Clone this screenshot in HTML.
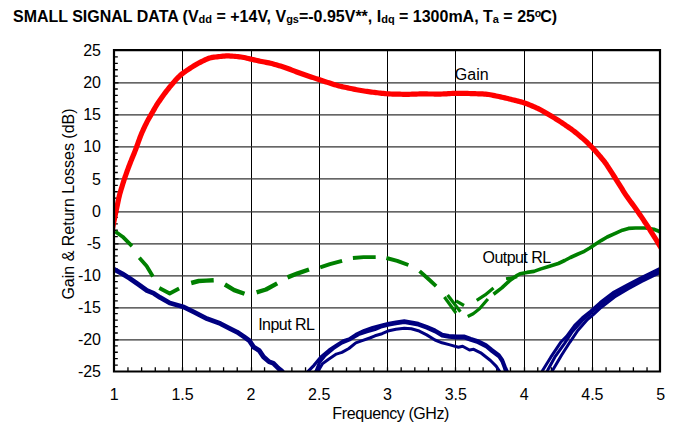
<!DOCTYPE html>
<html><head><meta charset="utf-8"><style>
html,body{margin:0;padding:0;background:#fff;}
body{width:690px;height:430px;overflow:hidden;}
svg{display:block;font-family:"Liberation Sans",sans-serif;}
</style></head><body>
<svg width="690" height="430" viewBox="0 0 690 430">
<rect width="690" height="430" fill="#fff"/>
<text x="13" y="21.8" font-size="16" font-weight="bold" fill="#000" transform="translate(0,21.8) scale(1,0.98) translate(0,-21.8)">SMALL SIGNAL DATA (V<tspan font-size="11" dy="1">dd</tspan><tspan dy="-1"> = +14V, V</tspan><tspan font-size="11" dy="1">gs</tspan><tspan dy="-1">=-0.95V**, I</tspan><tspan font-size="11" dy="1">dq</tspan><tspan dy="-1"> = 1300mA, T</tspan><tspan font-size="11" dy="1">a</tspan><tspan dy="-1"> = 25</tspan><tspan font-size="10.5" dy="-4.5" dx="-0.3">o</tspan><tspan dy="4.5" dx="-0.8">C)</tspan></text>
<g fill="none">
<line x1="182.5" y1="50" x2="182.5" y2="371" stroke="#000" stroke-width="1"/><line x1="251.5" y1="50" x2="251.5" y2="371" stroke="#000" stroke-width="1"/><line x1="319.5" y1="50" x2="319.5" y2="371" stroke="#000" stroke-width="1"/><line x1="387.5" y1="50" x2="387.5" y2="371" stroke="#000" stroke-width="1"/><line x1="455.5" y1="50" x2="455.5" y2="371" stroke="#000" stroke-width="1"/><line x1="524.5" y1="50" x2="524.5" y2="371" stroke="#000" stroke-width="1"/><line x1="592.5" y1="50" x2="592.5" y2="371" stroke="#000" stroke-width="1"/><line x1="114" y1="82.8" x2="660" y2="82.8" stroke="#333" stroke-width="1.35"/><line x1="114" y1="114.8" x2="660" y2="114.8" stroke="#333" stroke-width="1.35"/><line x1="114" y1="146.8" x2="660" y2="146.8" stroke="#333" stroke-width="1.35"/><line x1="114" y1="178.8" x2="660" y2="178.8" stroke="#333" stroke-width="1.35"/><line x1="114" y1="211.8" x2="660" y2="211.8" stroke="#333" stroke-width="1.35"/><line x1="114" y1="243.8" x2="660" y2="243.8" stroke="#333" stroke-width="1.35"/><line x1="114" y1="275.8" x2="660" y2="275.8" stroke="#333" stroke-width="1.35"/><line x1="114" y1="307.8" x2="660" y2="307.8" stroke="#333" stroke-width="1.35"/><line x1="114" y1="339.8" x2="660" y2="339.8" stroke="#333" stroke-width="1.35"/>
</g>
<path d="M114,365.08h3.8M114,358.66h3.8M114,352.24h3.8M114,345.82h3.8M114,339.80h4.5M114,332.98h3.8M114,326.56h3.8M114,320.14h3.8M114,313.72h3.8M114,307.80h4.5M114,300.88h3.8M114,294.46h3.8M114,288.04h3.8M114,281.62h3.8M114,275.80h4.5M114,268.78h3.8M114,262.36h3.8M114,255.94h3.8M114,249.52h3.8M114,243.80h4.5M114,236.68h3.8M114,230.26h3.8M114,223.84h3.8M114,217.42h3.8M114,211.80h4.5M114,204.58h3.8M114,198.16h3.8M114,191.74h3.8M114,185.32h3.8M114,178.80h4.5M114,172.48h3.8M114,166.06h3.8M114,159.64h3.8M114,153.22h3.8M114,146.80h4.5M114,140.38h3.8M114,133.96h3.8M114,127.54h3.8M114,121.12h3.8M114,114.80h4.5M114,108.28h3.8M114,101.86h3.8M114,95.44h3.8M114,89.02h3.8M114,82.80h4.5M114,76.18h3.8M114,69.76h3.8M114,63.34h3.8M114,56.92h3.8M127.96,371v-3.8M141.62,371v-3.8M155.28,371v-3.8M168.94,371v-3.8M182.50,371v-3.8M196.26,371v-3.8M209.92,371v-3.8M223.58,371v-3.8M237.24,371v-3.8M251.50,371v-3.8M264.56,371v-3.8M278.22,371v-3.8M291.88,371v-3.8M305.54,371v-3.8M319.50,371v-3.8M332.86,371v-3.8M346.52,371v-3.8M360.18,371v-3.8M373.84,371v-3.8M387.50,371v-3.8M401.16,371v-3.8M414.82,371v-3.8M428.48,371v-3.8M442.14,371v-3.8M455.50,371v-3.8M469.46,371v-3.8M483.12,371v-3.8M496.78,371v-3.8M510.44,371v-3.8M524.50,371v-3.8M537.76,371v-3.8M551.42,371v-3.8M565.08,371v-3.8M578.74,371v-3.8M592.50,371v-3.8M606.06,371v-3.8M619.72,371v-3.8M633.38,371v-3.8M647.04,371v-3.8" stroke="#000" stroke-width="1.3" fill="none"/>
<defs><clipPath id="pc"><rect x="114.6" y="50" width="545.4" height="321.2"/></clipPath></defs>
<g clip-path="url(#pc)" fill="none" stroke-linejoin="round" stroke-linecap="butt">
<polyline points="110.0,267.0 114.6,269.5 122.5,273.9 129.5,278.2 138.2,284.3 146.9,290.5 153.9,293.4 160.0,297.4 169.8,303.0 182.9,306.7 194.1,312.2 207.2,318.8 220.3,323.6 230.0,328.6 237.0,332.1 244.0,336.8 249.5,340.8 253.7,347.1 259.3,350.6 263.5,356.9 269.1,361.8 273.3,363.2 278.2,368.1 281.7,370.8 284.0,374.0" stroke="#000080" stroke-width="4.8"/>
<polyline points="306.0,374.0 308.4,371.0 314.0,365.3 320.9,356.9 329.3,349.9 337.7,344.3 343.3,340.8 348.9,339.0 355.8,334.5 364.2,330.4 372.6,327.5 382.0,325.0 389.0,323.3 395.9,322.0 404.3,320.8 411.3,322.0 418.3,323.4 426.7,326.4 435.0,330.0 442.0,334.2 449.0,335.5 457.0,336.0 464.0,336.0 470.9,338.5 477.9,340.8 486.3,345.0 491.9,349.6 498.9,354.8 502.4,359.7 505.1,366.7 508.0,373.0" stroke="#000080" stroke-width="3.2"/>
<polyline points="314.0,374.0 316.1,371.0 319.5,362.5 325.1,355.5 333.5,348.5 341.9,342.9 350.3,339.4 358.6,334.5 367.0,331.8 375.0,329.5 382.0,326.6 389.0,325.0 395.9,323.6 404.3,322.4 411.3,323.6 418.3,325.0 426.7,328.0 435.0,331.7 442.0,335.9 449.0,337.2 457.0,337.8 464.0,337.8 470.9,340.3 477.9,342.6 486.3,346.8 491.9,351.4 498.9,356.6 502.0,361.5 504.5,368.0 506.0,373.0" stroke="#000080" stroke-width="3.2"/>
<polyline points="316.0,374.0 318.2,371.0 322.3,363.9 327.9,359.7 336.3,354.1 341.9,352.4 348.9,348.5 355.8,342.9 361.4,340.8 369.8,338.0 375.0,335.8 382.0,333.7 389.0,330.7 395.9,329.3 404.3,328.2 411.3,328.8 418.3,330.7 426.7,334.9 435.0,340.0 442.0,342.8 450.0,344.9 458.4,347.2 462.6,346.2 469.5,350.0 473.7,349.3 480.7,352.8 490.5,360.5 496.1,366.1 499.6,371.4 501.0,374.0" stroke="#000080" stroke-width="3"/>
<polyline points="541.5,373.0 542.9,370.0 550.8,357.2 560.7,342.3 566.6,336.4 574.5,325.6 582.4,317.7 590.3,311.3 600.2,302.5 614.0,292.0 627.9,284.5 641.8,277.3 662.0,267.5" stroke="#000080" stroke-width="3"/>
<polyline points="551.5,373.0 552.8,370.0 561.5,355.2 569.8,342.3 577.8,330.5 587.4,319.6 593.3,314.7 601.0,307.5 614.5,297.0 628.0,289.0 641.8,281.5 662.0,271.5" stroke="#000080" stroke-width="3"/>
<polyline points="546.5,373.0 547.8,370.0 554.8,357.2 564.6,343.3 572.5,331.5 582.0,321.0 591.0,313.0 600.2,305.0 614.0,294.5 627.9,286.7 641.8,279.4 662.0,269.5" stroke="#000080" stroke-width="3"/>
<polyline points="115.2,231.5 122.6,236.7 132.0,246.2" stroke="#008000" stroke-width="3.8"/><polyline points="139.3,257.7 146.6,266.0 152.9,276.5" stroke="#008000" stroke-width="3.8"/><polyline points="159.3,288.0 169.7,293.5 179.1,288.5" stroke="#008000" stroke-width="3.8"/>
<polyline points="191.2,283.0 198.7,281.0 206.2,280.6 213.7,280.2" stroke="#008000" stroke-width="4.4"/><polyline points="224.9,284.5 234.2,290.1 244.5,293.8" stroke="#008000" stroke-width="4.4"/><polyline points="256.6,292.3 266.0,289.5 277.2,283.4" stroke="#008000" stroke-width="4.4"/><polyline points="287.5,277.4 297.8,273.3 309.0,269.5" stroke="#008000" stroke-width="4.4"/>
<polyline points="320.2,267.4 329.9,264.2 342.1,260.8" stroke="#008000" stroke-width="3.9"/><polyline points="352.9,258.0 363.6,257.1 375.7,257.1" stroke="#008000" stroke-width="3.9"/><polyline points="386.4,258.0 397.2,260.8 408.4,265.0" stroke="#008000" stroke-width="3.9"/><polyline points="419.6,271.1 429.0,279.5 436.1,286.1" stroke="#008000" stroke-width="3.9"/>
<polyline points="444.4,297.0 456.0,313.0" stroke="#008000" stroke-width="3.2"/><polyline points="447.6,295.0 460.4,311.7" stroke="#008000" stroke-width="3.2"/><polyline points="456.0,300.8 464.0,305.5" stroke="#008000" stroke-width="3.2"/><polyline points="467.7,316.5 473.2,313.7 479.5,308.8 487.9,299.0" stroke="#008000" stroke-width="3.2"/><polyline points="476.7,300.4 485.1,294.9 493.5,287.9" stroke="#008000" stroke-width="3.2"/>
<polyline points="493.5,294.2 501.8,287.9 510.2,280.2 517.2,275.3 520.0,273.8 527.0,272.4 534.0,271.4 540.9,268.9 547.9,266.8 558.3,263.5 564.7,260.5 570.4,257.5 577.0,254.5 584.3,251.3 589.8,248.0 595.0,244.6 601.1,240.6 607.2,237.0 615.3,233.3 622.4,230.2 628.5,228.4 635.6,228.0 645.7,228.0 653.8,229.2 658.9,231.2 662.0,234.0" stroke="#008000" stroke-width="3.6"/>
<polyline points="506.0,278.8 517.2,276.7" stroke="#008000" stroke-width="3"/>
<path d="M112.50,229.00 L112.87,226.96 L113.09,225.81 L113.34,224.48 L113.61,223.06 L113.90,221.60 L114.20,220.13 L114.50,218.66 L114.81,217.18 L115.11,215.71 L115.42,214.23 L115.72,212.76 L116.03,211.29 L116.33,209.81 L116.64,208.34 L116.95,206.86 L117.26,205.39 L117.57,203.92 L117.88,202.44 L118.19,200.97 L118.50,199.50 L118.82,198.03 L119.16,196.56 L119.51,195.10 L119.89,193.65 L120.30,192.20 L120.73,190.76 L121.16,189.32 L121.60,187.88 L122.05,186.44 L122.49,185.00 L122.94,183.56 L123.38,182.12 L123.84,180.69 L124.31,179.26 L124.79,177.83 L125.28,176.41 L125.78,174.99 L126.28,173.57 L126.79,172.16 L127.30,170.74 L127.81,169.32 L128.33,167.91 L128.85,166.50 L129.38,165.09 L129.93,163.69 L130.48,162.29 L131.05,160.89 L131.61,159.50 L132.18,158.11 L132.75,156.71 L133.32,155.32 L133.89,153.92 L134.45,152.53 L135.01,151.13 L135.55,149.73 L136.08,148.32 L136.60,146.91 L137.11,145.49 L137.62,144.07 L138.13,142.66 L138.64,141.24 L139.15,139.82 L139.66,138.41 L140.18,137.00 L140.72,135.59 L141.28,134.20 L141.87,132.81 L142.47,131.44 L143.10,130.07 L143.73,128.70 L144.37,127.34 L145.01,125.98 L145.66,124.62 L146.32,123.27 L147.00,121.93 L147.70,120.60 L148.42,119.28 L149.17,117.97 L149.92,116.66 L150.67,115.36 L151.42,114.06 L152.17,112.75 L152.92,111.45 L153.67,110.14 L154.42,108.84 L155.18,107.53 L155.95,106.24 L156.73,104.96 L157.54,103.69 L158.36,102.43 L159.20,101.18 L160.05,99.94 L160.92,98.71 L161.79,97.48 L162.67,96.26 L163.56,95.05 L164.45,93.83 L165.35,92.62 L166.25,91.42 L167.17,90.23 L168.10,89.05 L169.04,87.87 L170.00,86.71 L170.95,85.55 L171.92,84.39 L172.89,83.24 L173.87,82.10 L174.87,80.97 L175.87,79.86 L176.89,78.75 L177.92,77.65 L178.98,76.59 L180.07,75.56 L181.20,74.58 L182.37,73.65 L183.57,72.75 L184.79,71.87 L186.02,71.00 L187.26,70.15 L188.51,69.31 L189.77,68.49 L191.03,67.67 L192.31,66.87 L193.59,66.08 L194.87,65.29 L196.16,64.52 L197.46,63.77 L198.78,63.05 L200.11,62.35 L201.46,61.67 L202.80,61.00 L204.15,60.34 L205.51,59.69 L206.87,59.07 L208.26,58.51 L209.66,58.04 L211.10,57.67 L212.56,57.38 L214.04,57.16 L215.53,56.97 L217.02,56.80 L218.52,56.64 L220.01,56.48 L221.51,56.32 L223.01,56.17 L224.50,56.05 L226.00,55.96 L227.50,55.93 L229.00,55.96 L230.50,56.03 L232.00,56.14 L233.50,56.26 L235.00,56.39 L236.49,56.52 L237.99,56.66 L239.49,56.82 L240.98,57.01 L242.46,57.24 L243.94,57.51 L245.41,57.82 L246.87,58.16 L248.34,58.50 L249.80,58.85 L251.27,59.20 L252.73,59.55 L254.19,59.90 L255.66,60.25 L257.13,60.58 L258.60,60.91 L260.07,61.22 L261.54,61.51 L263.02,61.78 L264.50,62.05 L265.99,62.32 L267.46,62.60 L268.94,62.90 L270.40,63.24 L271.86,63.60 L273.31,63.99 L274.76,64.40 L276.20,64.82 L277.65,65.24 L279.09,65.67 L280.54,66.10 L281.98,66.53 L283.41,66.98 L284.84,67.45 L286.26,67.95 L287.67,68.46 L289.08,69.00 L290.49,69.54 L291.89,70.08 L293.29,70.63 L294.70,71.17 L296.10,71.71 L297.51,72.25 L298.91,72.78 L300.33,73.29 L301.75,73.79 L303.17,74.29 L304.60,74.77 L306.02,75.25 L307.45,75.73 L308.88,76.21 L310.30,76.69 L311.73,77.16 L313.16,77.64 L314.59,78.12 L316.01,78.60 L317.44,79.07 L318.87,79.55 L320.30,80.02 L321.73,80.50 L323.16,80.97 L324.59,81.44 L326.02,81.90 L327.45,82.37 L328.88,82.84 L330.31,83.31 L331.74,83.78 L333.17,84.24 L334.61,84.69 L336.05,85.12 L337.50,85.53 L338.95,85.91 L340.41,86.26 L341.88,86.59 L343.35,86.92 L344.82,87.24 L346.29,87.56 L347.76,87.88 L349.23,88.20 L350.70,88.52 L352.18,88.83 L353.65,89.13 L355.13,89.42 L356.61,89.69 L358.09,89.96 L359.57,90.21 L361.06,90.46 L362.54,90.71 L364.03,90.95 L365.51,91.20 L367.00,91.43 L368.49,91.66 L369.98,91.88 L371.47,92.08 L372.96,92.26 L374.46,92.44 L375.95,92.62 L377.45,92.79 L378.94,92.96 L380.44,93.13 L381.93,93.30 L383.43,93.46 L384.93,93.61 L386.43,93.74 L387.93,93.84 L389.43,93.92 L390.93,93.98 L392.43,94.03 L393.94,94.07 L395.44,94.11 L396.95,94.15 L398.45,94.18 L399.96,94.22 L401.46,94.26 L402.97,94.29 L404.47,94.31 L405.98,94.32 L407.48,94.32 L408.99,94.29 L410.49,94.25 L412.00,94.20 L413.50,94.14 L415.00,94.09 L416.51,94.03 L418.01,93.99 L419.52,93.96 L421.02,93.94 L422.53,93.94 L424.03,93.94 L425.54,93.95 L427.04,93.97 L428.55,93.98 L430.05,93.99 L431.56,94.00 L433.06,94.02 L434.57,94.03 L436.07,94.04 L437.58,94.05 L439.08,94.05 L440.59,94.04 L442.09,94.01 L443.59,93.96 L445.10,93.88 L446.60,93.79 L448.10,93.69 L449.60,93.59 L451.10,93.49 L452.61,93.40 L454.11,93.34 L455.61,93.30 L457.12,93.28 L458.62,93.29 L460.12,93.31 L461.63,93.34 L463.13,93.37 L464.64,93.40 L466.14,93.43 L467.65,93.46 L469.15,93.50 L470.66,93.54 L472.16,93.58 L473.67,93.63 L475.17,93.68 L476.68,93.73 L478.18,93.79 L479.69,93.84 L481.19,93.89 L482.69,93.95 L484.19,94.03 L485.69,94.14 L487.18,94.29 L488.67,94.50 L490.15,94.75 L491.63,95.03 L493.10,95.33 L494.57,95.64 L496.05,95.95 L497.52,96.26 L498.99,96.57 L500.46,96.89 L501.94,97.20 L503.41,97.53 L504.87,97.86 L506.34,98.21 L507.80,98.56 L509.26,98.92 L510.72,99.29 L512.18,99.65 L513.64,100.02 L515.10,100.39 L516.56,100.76 L518.02,101.12 L519.48,101.50 L520.93,101.88 L522.38,102.28 L523.82,102.71 L525.24,103.19 L526.65,103.70 L528.05,104.25 L529.44,104.82 L530.83,105.41 L532.22,105.99 L533.60,106.58 L534.99,107.18 L536.36,107.78 L537.74,108.39 L539.09,109.04 L540.43,109.72 L541.75,110.43 L543.06,111.17 L544.36,111.93 L545.65,112.71 L546.94,113.48 L548.23,114.26 L549.52,115.03 L550.81,115.81 L552.10,116.59 L553.39,117.36 L554.68,118.14 L555.96,118.93 L557.24,119.72 L558.51,120.52 L559.77,121.34 L561.03,122.18 L562.27,123.02 L563.52,123.87 L564.76,124.72 L566.00,125.57 L567.24,126.42 L568.49,127.27 L569.72,128.12 L570.96,128.99 L572.18,129.86 L573.39,130.75 L574.58,131.67 L575.76,132.61 L576.93,133.56 L578.09,134.51 L579.25,135.47 L580.40,136.44 L581.56,137.41 L582.70,138.38 L583.83,139.37 L584.95,140.38 L586.05,141.41 L587.13,142.45 L588.20,143.51 L589.27,144.57 L590.33,145.64 L591.39,146.71 L592.44,147.79 L593.47,148.88 L594.49,149.98 L595.50,151.10 L596.49,152.23 L597.47,153.37 L598.45,154.52 L599.43,155.66 L600.41,156.81 L601.38,157.95 L602.35,159.10 L603.31,160.26 L604.24,161.44 L605.15,162.64 L606.02,163.86 L606.87,165.10 L607.70,166.36 L608.51,167.62 L609.33,168.89 L610.14,170.15 L610.96,171.42 L611.77,172.68 L612.58,173.95 L613.40,175.22 L614.21,176.49 L615.02,177.76 L615.82,179.03 L616.63,180.30 L617.43,181.58 L618.22,182.85 L619.02,184.13 L619.82,185.41 L620.61,186.69 L621.41,187.96 L622.20,189.24 L623.00,190.52 L623.80,191.79 L624.61,193.06 L625.43,194.33 L626.26,195.58 L627.11,196.82 L627.98,198.04 L628.86,199.26 L629.75,200.48 L630.64,201.70 L631.53,202.91 L632.42,204.12 L633.31,205.34 L634.20,206.55 L635.08,207.77 L635.97,208.99 L636.84,210.21 L637.71,211.44 L638.56,212.68 L639.41,213.93 L640.25,215.17 L641.09,216.42 L641.93,217.67 L642.77,218.93 L643.60,220.18 L644.44,221.43 L645.28,222.68 L646.11,223.93 L646.94,225.19 L647.76,226.45 L648.58,227.71 L649.38,228.98 L650.19,230.26 L650.98,231.53 L651.78,232.81 L652.58,234.09 L653.37,235.37 L654.17,236.65 L654.96,237.92 L655.76,239.20 L656.55,240.48 L657.34,241.76 L658.13,243.04 L658.90,244.31 L659.65,245.55 L660.34,246.71 L660.94,247.71 L662.00,249.50" stroke="#ff0000" stroke-width="5.2"/>
</g>
<path d="M114,50.2H660V371.5H114Z" stroke="#000" stroke-width="2.2" fill="none"/>
<g font-size="16" fill="#000">
<text x="101" y="56.1" text-anchor="end">25</text><text x="101" y="88.2" text-anchor="end">20</text><text x="101" y="120.3" text-anchor="end">15</text><text x="101" y="152.4" text-anchor="end">10</text><text x="101" y="184.5" text-anchor="end">5</text><text x="101" y="216.6" text-anchor="end">0</text><text x="101" y="248.7" text-anchor="end">-5</text><text x="101" y="280.8" text-anchor="end">-10</text><text x="101" y="312.9" text-anchor="end">-15</text><text x="101" y="345.0" text-anchor="end">-20</text><text x="101" y="377.1" text-anchor="end">-25</text>
<text x="114.3" y="399.8" text-anchor="middle">1</text><text x="182.6" y="399.8" text-anchor="middle">1.5</text><text x="250.9" y="399.8" text-anchor="middle">2</text><text x="319.2" y="399.8" text-anchor="middle">2.5</text><text x="387.5" y="399.8" text-anchor="middle">3</text><text x="455.8" y="399.8" text-anchor="middle">3.5</text><text x="524.1" y="399.8" text-anchor="middle">4</text><text x="592.4" y="399.8" text-anchor="middle">4.5</text><text x="660.7" y="399.8" text-anchor="middle">5</text>
<text x="454.8" y="80">Gain</text>
<text x="482.5" y="262.5" letter-spacing="-0.55">Output RL</text>
<text x="258.2" y="329.8" letter-spacing="-0.55">Input RL</text>
<text x="390.7" y="418.5" text-anchor="middle" letter-spacing="-0.4">Frequency (GHz)</text>
<text transform="translate(74.3,204) rotate(-90)" text-anchor="middle">Gain &amp; Return Losses (dB)</text>
</g>
</svg>
</body></html>
